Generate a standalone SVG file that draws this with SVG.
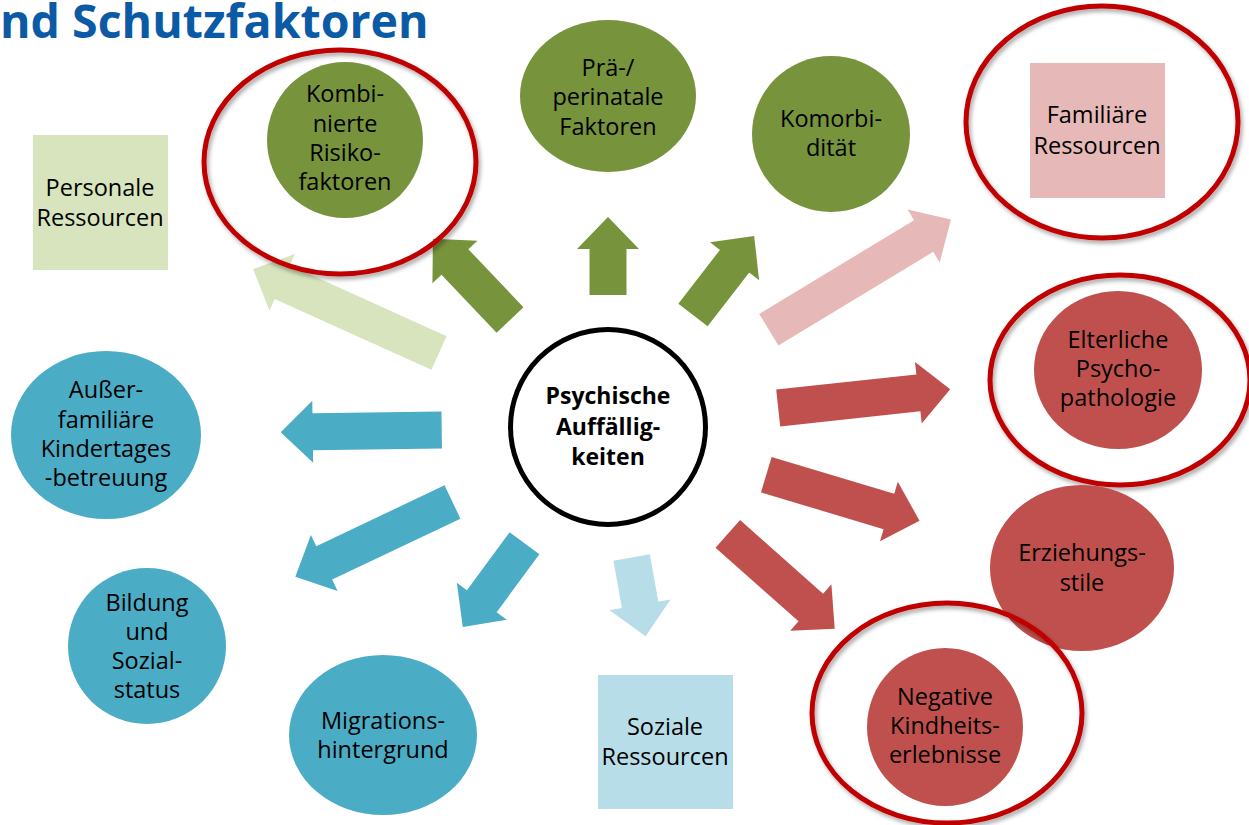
<svg xmlns="http://www.w3.org/2000/svg" width="1249" height="825" viewBox="0 0 1249 825">
<defs>
<filter id="sh" x="-20%" y="-20%" width="140%" height="140%">
<feDropShadow dx="2" dy="3" stdDeviation="2" flood-color="#000" flood-opacity="0.35"/>
</filter>
</defs>
<style>
text{font-family:"Open Sans","Noto Sans","Liberation Sans",sans-serif;font-size:23.5px;fill:#000;text-anchor:middle}
.title{font-size:46.5px;font-weight:bold;fill:#0B5AA6;text-anchor:start}
.bold{font-weight:bold;font-size:23px}
.ring{fill:none;stroke:#C00000;stroke-width:5;filter:url(#sh)}
.g{fill:#77933C}.lg{fill:#D7E4BD}.pk{fill:#E6B9B8}.rd{fill:#C0504D}.bl{fill:#4BACC6}.lb{fill:#B7DEE8}
</style>
<rect width="1249" height="825" fill="#fff"/>
<text class="title" x="0" y="38">nd Schutzfaktoren</text>

<g id="connectors">
<polygon class="lg" points="0,-18.5 172,-18.5 172,-31 204,0 172,31 172,18.5 0,18.5" transform="translate(439,353) rotate(-155.7)"/>
<polygon class="g" points="0,-18.5 80,-18.5 80,-31 112,0 80,31 80,18.5 0,18.5" transform="translate(510,320) rotate(-133.5)"/>
<polygon class="g" points="0,-18.5 46,-18.5 46,-31 78,0 46,31 46,18.5 0,18.5" transform="translate(608,295) rotate(-90)"/>
<polygon class="g" points="0,-18.5 68,-18.5 68,-31 100,0 68,31 68,18.5 0,18.5" transform="translate(693,315) rotate(-52.3)"/>
<polygon class="pk" points="0,-18.5 181,-18.5 181,-31 213,0 181,31 181,18.5 0,18.5" transform="translate(768.8,329.8) rotate(-31.2)"/>
<polygon class="rd" points="0,-18.5 141,-18.5 141,-31 173,0 141,31 141,18.5 0,18.5" transform="translate(778.2,408) rotate(-6.2)"/>
<polygon class="rd" points="0,-18.5 128,-18.5 128,-31 160,0 128,31 128,18.5 0,18.5" transform="translate(766.3,474.7) rotate(16.7)"/>
<polygon class="rd" points="0,-18.5 111,-18.5 111,-31 143,0 111,31 111,18.5 0,18.5" transform="translate(727.8,533.8) rotate(41.6)"/>
<polygon class="bl" points="0,-18.5 129,-18.5 129,-31 161,0 129,31 129,18.5 0,18.5" transform="translate(441.7,430) rotate(179.2)"/>
<polygon class="bl" points="0,-18.5 142,-18.5 142,-31 174,0 142,31 142,18.5 0,18.5" transform="translate(452.5,502) rotate(154.6)"/>
<polygon class="bl" points="0,-18.5 72,-18.5 72,-31 104,0 72,31 72,18.5 0,18.5" transform="translate(524.5,543.3) rotate(126.4)"/>
<polygon class="lb" points="0,-18.5 48,-18.5 48,-31 80,0 48,31 48,18.5 0,18.5" transform="translate(631.7,557.5) rotate(80)"/>
</g>

<g id="center">
<circle cx="608" cy="427" r="97.5" fill="#fff" stroke="#000" stroke-width="5"/>
<text class="bold" x="608" y="404">Psychische</text>
<text class="bold" x="608" y="435">Auffällig-</text>
<text class="bold" x="608" y="465">keiten</text>
</g>

<g id="personale">
<rect class="lg" x="33" y="135" width="135" height="135"/>
<text x="100" y="196">Personale</text>
<text x="100" y="226">Ressourcen</text>
</g>

<g id="kombinierte">
<ellipse class="g" cx="345" cy="140" rx="78" ry="78"/>
<text x="345" y="102">Kombi-</text>
<text x="345" y="132">nierte</text>
<text x="345" y="161">Risiko-</text>
<text x="345" y="190">faktoren</text>
<ellipse class="ring" cx="340" cy="162" rx="136" ry="112"/>
</g>

<g id="praeperinatal">
<ellipse class="g" cx="608" cy="96" rx="88" ry="76"/>
<text x="608" y="76">Prä-/</text>
<text x="608" y="105">perinatale</text>
<text x="608" y="135">Faktoren</text>
</g>

<g id="komorbiditaet">
<ellipse class="g" cx="831" cy="134" rx="79" ry="78"/>
<text x="831" y="127">Komorbi-</text>
<text x="831" y="156">dität</text>
</g>

<g id="familiaere">
<rect class="pk" x="1030" y="63" width="135" height="135"/>
<text x="1097" y="123">Familiäre</text>
<text x="1097" y="154">Ressourcen</text>
<ellipse class="ring" cx="1102" cy="122" rx="136" ry="116"/>
</g>

<g id="elterliche">
<ellipse class="rd" cx="1118" cy="370" rx="84" ry="79"/>
<text x="1118" y="348">Elterliche</text>
<text x="1118" y="377">Psycho-</text>
<text x="1118" y="406">pathologie</text>
<ellipse class="ring" cx="1120" cy="380" rx="130" ry="105"/>
</g>

<g id="erziehungsstile">
<ellipse class="rd" cx="1082" cy="568" rx="92" ry="83"/>
<text x="1082" y="561">Erziehungs-</text>
<text x="1082" y="591">stile</text>
</g>

<g id="negative">
<ellipse class="rd" cx="945" cy="727" rx="78" ry="79"/>
<text x="945" y="705">Negative</text>
<text x="945" y="734">Kindheits-</text>
<text x="945" y="763">erlebnisse</text>
<ellipse class="ring" cx="947" cy="713" rx="135" ry="110"/>
</g>

<g id="soziale">
<rect class="lb" x="598" y="675" width="135" height="134"/>
<text x="665" y="735">Soziale</text>
<text x="665" y="765">Ressourcen</text>
</g>

<g id="migration">
<ellipse class="bl" cx="383" cy="735" rx="94" ry="80"/>
<text x="383" y="729">Migrations-</text>
<text x="383" y="758">hintergrund</text>
</g>

<g id="bildung">
<ellipse class="bl" cx="147" cy="646" rx="79" ry="78"/>
<text x="147" y="611">Bildung</text>
<text x="147" y="640">und</text>
<text x="147" y="669">Sozial-</text>
<text x="147" y="698">status</text>
</g>

<g id="ausserfamiliaer">
<ellipse class="bl" cx="106" cy="435" rx="95" ry="84"/>
<text x="106" y="398">Außer-</text>
<text x="106" y="428">familiäre</text>
<text x="106" y="457">Kindertages</text>
<text x="106" y="486">-betreuung</text>
</g>
</svg>
